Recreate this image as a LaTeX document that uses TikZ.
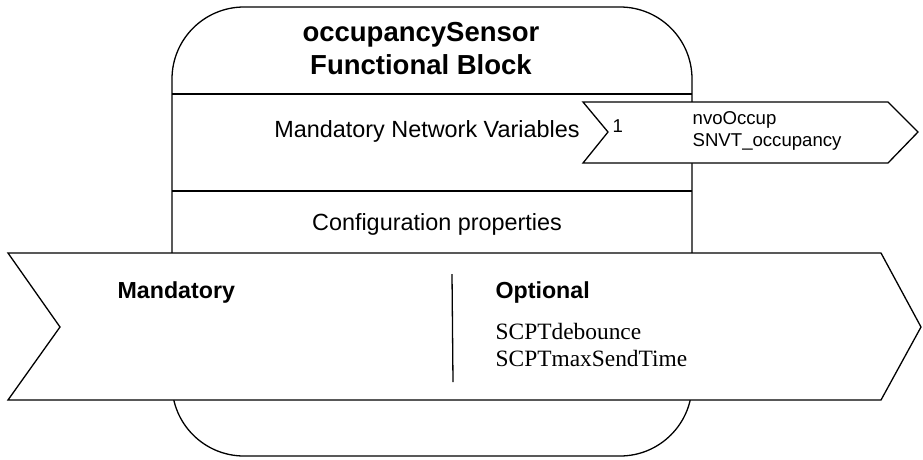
\documentclass[tikz,border=0pt]{standalone}
\usepackage{fontspec}
\setmainfont{Liberation Sans}
\newfontfamily\timesfont{Liberation Serif}
\begin{document}
\begin{tikzpicture}[x=1pt,y=-1pt,line width=1.3pt,
  title text/.style={font=\fontsize{27.5}{33}\selectfont\bfseries,align=center,inner sep=0pt},
  body text/.style={font=\fontsize{23.4}{28}\selectfont,inner sep=0pt},
  head text/.style={font=\fontsize{23.2}{28}\selectfont\bfseries,anchor=west,inner sep=0pt},
  cp text/.style={font=\fontsize{23.4}{27}\selectfont\timesfont,align=left,anchor=west,inner sep=0pt},
  nv text/.style={font=\fontsize{18.6}{22}\selectfont,align=left,anchor=west,inner sep=0pt},
  shape fill/.style={fill=white,draw=black,line join=miter}]
  \useasboundingbox (0,0) rectangle (923,459);

  \draw[rounded corners=72pt] (172,7) rectangle (692,456);
  \draw (172,94) -- (692,94);
  \draw (172,191) -- (692,191);

  \filldraw[shape fill] (583,102) -- (888,102) -- (918,132) -- (888,163)
    -- (583,163) -- (608,132) -- cycle;
  \filldraw[shape fill] (8,253) -- (881,253) -- (921,327) -- (881,400)
    -- (8,400) -- (60,327) -- cycle;
  \draw (452,274) -- (453,382);

  \node[title text] (title) at (421,49) {occupancySensor\\Functional Block};
  \node[body text] (mnv) at (427,131) {Mandatory Network Variables};
  \node[body text] (cfg) at (437,224) {Configuration properties};
  \node[nv text] (one) at (612,126) {1};
  \node[nv text] (nvo) at (692,131) {nvoOccup\\SNVT\_occupancy};
  \node[head text] (mand) at (117,292) {Mandatory};
  \node[head text] (opt) at (495,292) {Optional};
  \node[cp text] (scpt) at (495,345) {SCPTdebounce\\SCPTmaxSendTime};
\end{tikzpicture}
\end{document}
